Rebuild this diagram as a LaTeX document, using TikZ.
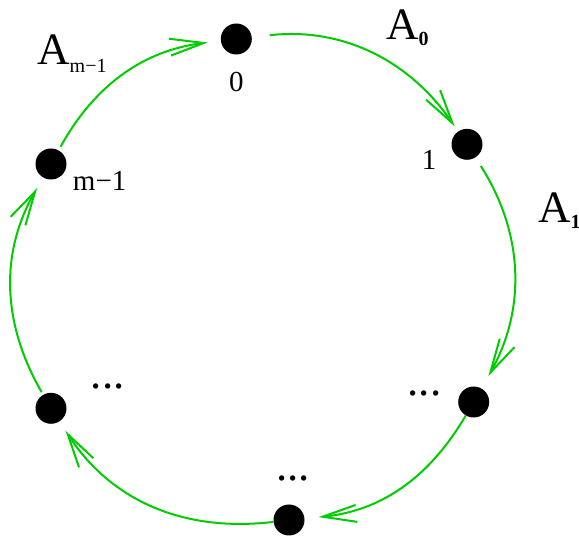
\documentclass[tikz,border=0pt]{standalone}
\usepackage{fontspec}
\setmainfont{Liberation Serif}
\usetikzlibrary{arrows.meta}
\definecolor{arcgreen}{RGB}{0,204,0}
\tikzset{
  state/.style={circle, fill=black, inner sep=0pt, minimum size=31pt},
  cyc/.style={draw=arcgreen, line width=2pt, -{Straight Barb[length=34pt,width=17pt]}},
  idx/.style={font=\fontsize{29}{29}\selectfont, inner sep=0pt, anchor=base},
  mapl/.style={font=\fontsize{45}{45}\selectfont, inner sep=0pt, anchor=base west},
  gap/.style={font=\fontsize{45}{45}\selectfont, inner sep=0pt, anchor=base},
}
\newcommand{\lowidx}[1]{\raisebox{-6pt}{\fontsize{20}{20}\selectfont\bfseries #1}}

\begin{document}
\begin{tikzpicture}[x=1pt,y=-1pt]
  \useasboundingbox (0,0) rectangle (579,537);

  % states on the cycle
  \node[state] (p0) at (236.3,39) {};
  \node[state] (p1) at (467,144.3) {};
  \node[state] (pr) at (473.7,402) {};
  \node[state] (pb) at (289,520) {};
  \node[state] (pl) at (51,408.3) {};
  \node[state] (pm) at (51,164) {};

  % state labels
  \node[idx] (l0) at (236.3,91.5) {0};
  \node[idx] (l1) at (429,170) {1};
  \node[idx] (lm) at (99.7,190.7) {m−1};
  \node[gap] (dr) at (424.5,395.5) {...};
  \node[gap] (db) at (293,481) {...};
  \node[gap] (dl) at (107.7,389) {...};

  % maps (A_1 runs off the right edge, as in the original)
  \node[mapl] (a0) at (386,40) {A\lowidx{0}};
  \node[mapl] (a1) at (538,223) {A\lowidx{1}};
  \node[mapl] (am) at (37,65) {A\raisebox{-8pt}{\fontsize{20}{20}\selectfont m−1}};

  % arcs
  \draw[cyc, shorten <=18pt, shorten >=6pt] (p0) to[bend left=31] (p1);
  \draw[cyc, shorten <=10pt, shorten >=14pt] (p1) to[bend left=31] (pr);
  \draw[cyc, shorten <=0pt, shorten >=14pt] (pr) to[bend left=27] (pb);
  \draw[cyc, shorten <=0pt, shorten >=11pt] (pb) to[bend left=32] (pl);
  \draw[cyc, shorten <=3pt, shorten >=12pt] (pl) to[bend left=30] (pm);
  \draw[cyc, shorten <=4pt, shorten >=13pt] (pm) to[bend left=27] (p0);
\end{tikzpicture}
\end{document}
